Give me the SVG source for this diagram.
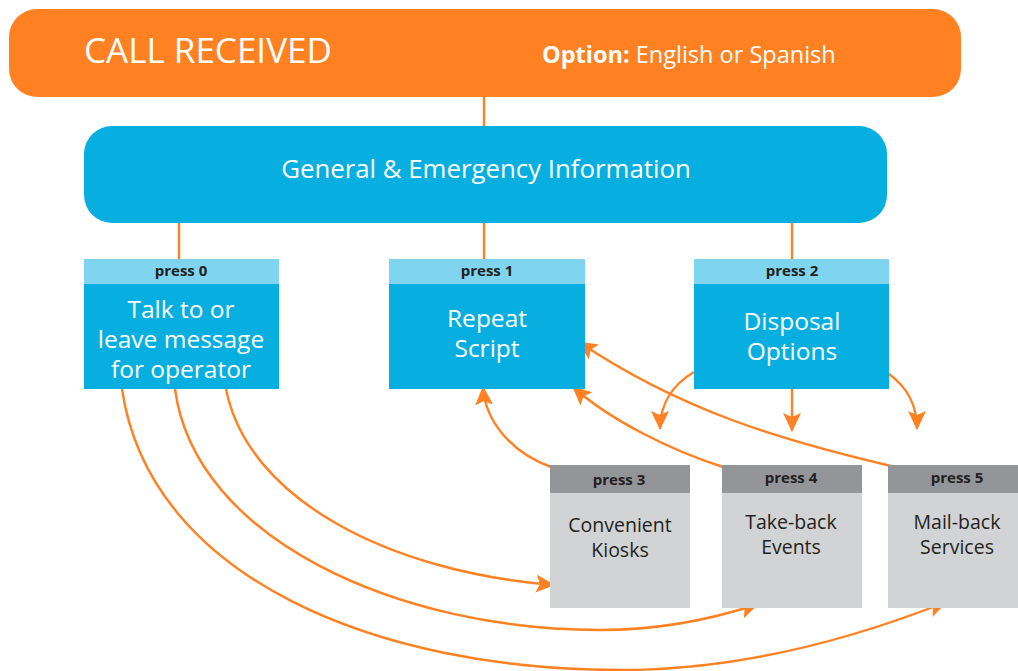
<svg xmlns="http://www.w3.org/2000/svg" width="1018" height="671" viewBox="0 0 1018 671">
<defs>
<style>
.t{font-family:"Open Sans",Lato,"Liberation Sans",sans-serif}
.w{fill:#ffffff}
.hd{font-weight:bold;font-size:15px;fill:#231F20;text-anchor:middle}
.bt{font-size:24.5px;text-anchor:middle;fill:#ffffff}
.gt{font-size:19.5px;text-anchor:middle;fill:#231F20}
.c{fill:none;stroke:#FF8122;stroke-width:2.4}
.lb{fill:#7FD5EF}
.bb{fill:#06AFE0}
.gh{fill:#939598}
.gb{fill:#D1D3D4}
</style>
<marker id="ah" markerUnits="userSpaceOnUse" markerWidth="20" markerHeight="18" refX="18" refY="9" orient="auto" viewBox="0 0 20 18">
<path d="M0,0 L19,9 L0,18 L4,9 z" fill="#FF8122"/>
</marker>
</defs>
<g id="connectors">
<line class="c" x1="484" y1="96" x2="484" y2="127"/>
<line class="c" x1="179" y1="222" x2="179" y2="260"/>
<line class="c" x1="484" y1="222" x2="484" y2="260"/>
<line class="c" x1="792" y1="222" x2="792" y2="260"/>
<path class="c" marker-end="url(#ah)" d="M226,389 C248,500 390,572 554,585"/>
<path class="c" marker-end="url(#ah)" d="M175,389 C195,540 400,630 600,630 C660,630 710,620 758,604"/>
<path class="c" marker-end="url(#ah)" d="M122,389 C150,580 380,670 620,670 C740,670 850,640 946,602"/>
<path class="c" marker-end="url(#ah)" d="M694,372 C672,385 660,405 660,429"/>
<path class="c" marker-end="url(#ah)" d="M792,389 L792,431"/>
<path class="c" marker-end="url(#ah)" d="M889,374 C908,388 917,405 917,429"/>
<path class="c" marker-end="url(#ah)" d="M551,467 C510,452 485,420 483,387"/>
<path class="c" marker-end="url(#ah)" d="M723,467 C670,450 610,420 573,387"/>
<path class="c" marker-end="url(#ah)" d="M891,466 C780,440 680,410 579,342"/>
</g>
<g id="call-received">
<rect x="9" y="9" width="952" height="88" rx="28" fill="#FF8122"/>
<text class="t w" x="84" y="63" font-size="35">CALL RECEIVED</text>
<text class="t w" x="542" y="63" font-size="23.5"><tspan font-weight="bold">Option:</tspan> English or Spanish</text>
</g>
<g id="general-info">
<rect x="84" y="126" width="803" height="97" rx="28" fill="#06AFE0"/>
<text class="t w" x="486" y="178" font-size="25.8" text-anchor="middle">General &amp; Emergency Information</text>
</g>
<g id="press0">
<rect class="lb" x="84" y="259" width="195" height="25"/>
<rect class="bb" x="84" y="284" width="195" height="105"/>
<text class="t hd" x="181" y="276">press 0</text>
<text class="t bt" x="181" y="318">Talk to or</text>
<text class="t bt" x="181" y="348">leave message</text>
<text class="t bt" x="181" y="378">for operator</text>
</g>
<g id="press1">
<rect class="lb" x="389" y="259" width="196" height="25"/>
<rect class="bb" x="389" y="284" width="196" height="105"/>
<text class="t hd" x="487" y="276">press 1</text>
<text class="t bt" x="487" y="327">Repeat</text>
<text class="t bt" x="487" y="357">Script</text>
</g>
<g id="press2">
<rect class="lb" x="694" y="259" width="195" height="25"/>
<rect class="bb" x="694" y="284" width="195" height="105"/>
<text class="t hd" x="792" y="276">press 2</text>
<text class="t bt" x="792" y="330">Disposal</text>
<text class="t bt" x="792" y="360">Options</text>
</g>
<g id="press3">
<rect class="gh" x="550" y="465" width="140" height="28"/>
<rect class="gb" x="550" y="493" width="140" height="115"/>
<text class="t hd" x="619" y="485">press 3</text>
<text class="t gt" x="620" y="532">Convenient</text>
<text class="t gt" x="620" y="557">Kiosks</text>
</g>
<g id="press4">
<rect class="gh" x="722" y="465" width="140" height="28"/>
<rect class="gb" x="722" y="493" width="140" height="115"/>
<text class="t hd" x="791" y="483">press 4</text>
<text class="t gt" x="791" y="529">Take-back</text>
<text class="t gt" x="791" y="554">Events</text>
</g>
<g id="press5">
<rect class="gh" x="888" y="465" width="140" height="28"/>
<rect class="gb" x="888" y="493" width="140" height="115"/>
<text class="t hd" x="957" y="483">press 5</text>
<text class="t gt" x="957" y="529">Mail-back</text>
<text class="t gt" x="957" y="554">Services</text>
</g>
</svg>
